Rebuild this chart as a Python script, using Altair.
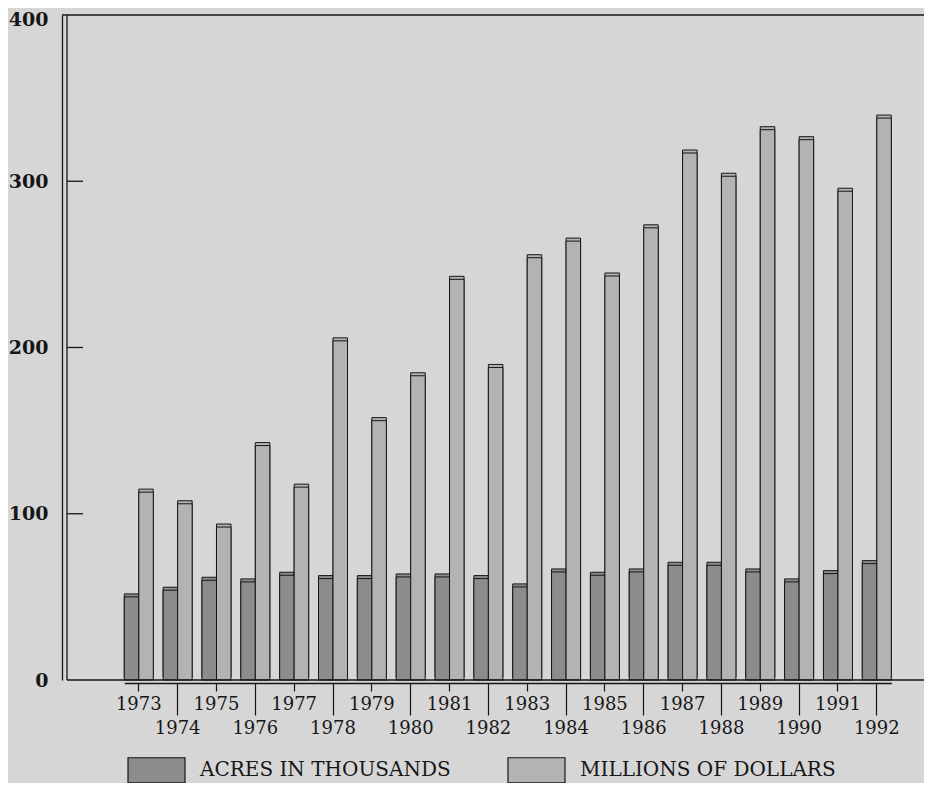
import altair as alt
import pandas as pd

# ---- data ----
years = list(range(1973, 1993))
acres = [50, 54, 60, 59, 63, 61, 61, 62, 62, 61, 56, 65, 63, 65, 69, 69, 65, 59, 64, 70]
millions = [113, 106, 92, 141, 116, 204, 156, 183, 241, 188, 254, 264, 243, 272, 317, 303, 331, 325, 294, 338]
series = ["ACRES IN THOUSANDS", "MILLIONS OF DOLLARS"]
y_ticks = [0, 100, 200, 300, 400]
inner_ticks = [100, 200, 300]

rows = []
for i, yr in enumerate(years):
    rows.append({"year": yr, "series": series[0], "value": acres[i]})
    rows.append({"year": yr, "series": series[1], "value": millions[i]})
df = pd.DataFrame(rows)

W, H = 857, 665
FONT = "DejaVu Serif"
INK = "#161616"
BG = "#d6d6d6"
fills = ["#8c8c8c", "#b3b3b3"]

legend = alt.Legend(
    title=None, orient="none", legendX=60, legendY=725.5,
    direction="horizontal", columns=2, columnPadding=54,
    symbolType="M-1,-0.44H1V0.44H-1Z", symbolSize=3249,
    symbolStrokeColor=INK, symbolStrokeWidth=1.2, symbolOpacity=1,
    labelFont=FONT, labelFontSize=20, labelColor=INK, labelOffset=14,
    labelLimit=400, padding=0,
)

color = alt.Color("series:N", scale=alt.Scale(domain=series, range=fills), legend=legend)

x_enc = alt.X(
    "year:O",
    scale=alt.Scale(range=[57.3, 824.3], paddingInner=0.2533, paddingOuter=0),
    axis=alt.Axis(
        title=None, labelAngle=0, labelFont=FONT, labelFontSize=18, labelColor=INK,
        labelPadding=4,
        tickSize={"condition": {"test": "datum.value % 2 == 0", "value": 32}, "value": 8},
        tickColor=INK, tickWidth=1.2, domainColor=INK, domainWidth=1.3,
        offset=3, grid=False,
    ),
)
y_axis = alt.Axis(
    title=None, values=y_ticks, ticks=False, labelFont=FONT, labelFontSize=19,
    labelFontWeight="bold", labelColor=INK, labelPadding=14,
    labelOffset={"condition": {"test": "datum.value == 400", "value": 4}, "value": 0},
    domainColor=INK, domainWidth=1.3, offset=5, grid=False,
)
y_scale = alt.Scale(domain=[0, 400], nice=False)
y_enc = alt.Y("value:Q", scale=y_scale, axis=y_axis)
xoff = alt.XOffset("series:N", sort=series, scale=alt.Scale(paddingInner=0, paddingOuter=0))

base = alt.Chart(df)
back = base.mark_bar(xOffset=3, yOffset=-3, stroke=INK, strokeWidth=1).encode(
    x=x_enc, y=y_enc, xOffset=xoff, color=color
)
front = base.mark_bar(stroke=INK, strokeWidth=1).encode(
    x=x_enc, y=y_enc, xOffset=xoff, color=color
)

line_style = dict(color=INK, strokeWidth=1.3)
top_line = alt.Chart(pd.DataFrame({"value": [400]})).mark_rule(**line_style).encode(
    y=y_enc, x=alt.value(-5), x2=alt.value(W)
)
bottom_line = alt.Chart(pd.DataFrame({"value": [0]})).mark_rule(**line_style).encode(
    y=y_enc, x=alt.value(0), x2=alt.value(W)
)
left_line = alt.Chart(pd.DataFrame({"value": [0], "value2": [400]})).mark_rule(**line_style).encode(
    y=y_enc, y2="value2:Q", x=alt.value(0)
)
ticks_in = alt.Chart(pd.DataFrame({"value": inner_ticks})).mark_rule(**line_style).encode(
    y=y_enc, x=alt.value(0), x2=alt.value(16)
)

chart = alt.layer(back, front, top_line, bottom_line, left_line, ticks_in).properties(
    width=W, height=H,
    autosize=alt.AutoSizeParams(type="none"),
    padding={"left": 59, "top": 7, "right": 0, "bottom": 103},
    background=BG,
).configure_view(stroke=None)

chart.save("out.html", embed_options={"renderer": "svg", "actions": False})
